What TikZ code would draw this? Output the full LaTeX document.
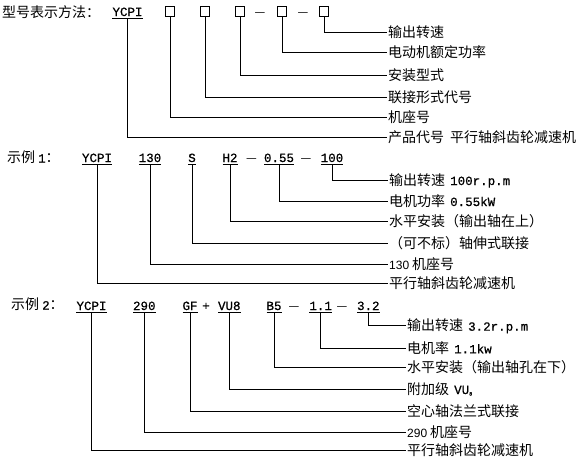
\documentclass[tikz,border=0pt]{standalone}
\usepackage{fontspec}
\newfontfamily\cjkfont{Noto Sans CJK SC}
\newfontfamily\monofont[FakeBold=0.6]{Liberation Mono}
\newfontfamily\sansfontx{Liberation Sans}
\newcommand\lat[1]{{\monofont\fontsize{12.5}{12}\selectfont #1}}
\newcommand\num[1]{{\sansfontx\fontsize{12}{12}\selectfont #1}}
\newcommand\cul[1]{\leavevmode\setbox0=\hbox{#1}\rlap{\copy0}\rule[-2.4pt]{\wd0}{0.9pt}}
\tikzset{
  head/.style={anchor=base west, inner sep=0pt, font=\cjkfont\fontsize{14}{16}\selectfont},
  lbl/.style={anchor=west, inner xsep=1pt, inner ysep=0pt, text height=11pt, text depth=1pt,
              font=\cjkfont\fontsize{14}{16}\selectfont},
  code/.style={anchor=base, inner sep=0pt, font=\monofont\fontsize{12.5}{12}\selectfont},
  sym/.style={anchor=base, inner sep=0pt, font=\cjkfont\fontsize{12}{12}\selectfont},
  blank/.style={draw, line width=0.9pt, minimum size=9.5pt, inner sep=0pt},
  conn/.style={line width=0.9pt}
}
\begin{document}
\begin{tikzpicture}[x=1pt,y=-1pt]
\useasboundingbox[fill=white] (0,0) rectangle (586,464);

% ---------- row 0 ----------
\node[head] (h0) at (2,17) {型号表示方法：};
\node[code] (c0) at (127.5,16) {\cul{YCPI}};
\node[blank] (b1) at (170,11.5) {};
\node[blank] (b2) at (205,11.5) {};
\node[blank] (b3) at (240,11.5) {};
\node[sym] (d01) at (260,16) {—};
\node[blank] (b4) at (282,11.5) {};
\node[sym] (d02) at (303,16) {—};
\node[blank] (b5) at (324,11.5) {};

\node[lbl] (l05) at (387,32.3) {输出转速};
\node[lbl] (l04) at (387,52.3) {电动机额定功率};
\node[lbl] (l03) at (387,75) {安装型式};
\node[lbl] (l02) at (387,97.7) {联接形式代号};
\node[lbl] (l01) at (387,117.3) {机座号};
\node[lbl] (l00) at (387,137.7) {产品代号\hspace{6pt}平行轴斜齿轮减速机};

\draw[conn] (b5.south) |- (l05.west);
\draw[conn] (b4.south) |- (l04.west);
\draw[conn] (b3.south) |- (l03.west);
\draw[conn] (b2.south) |- (l02.west);
\draw[conn] (b1.south) |- (l01.west);
\draw[conn] (c0.south) |- (l00.west);

% ---------- row 1 ----------
\node[head] (h1) at (7,162.5) {示例\hspace{3pt}\lat{1}：};
\node[code] (c1a) at (97,162) {\cul{YCPI}};
\node[code] (c1b) at (150,162) {\cul{130}};
\node[code] (c1c) at (192,162) {\cul{S}};
\node[code] (c1d) at (230,162) {\cul{H2}};
\node[sym] (d11) at (251.5,162) {—};
\node[code] (c1e) at (279,162) {\cul{0.55}};
\node[sym] (d12) at (306,162) {—};
\node[code] (c1f) at (332,162) {\cul{100}};

\node[lbl] (l15) at (388,180) {输出转速\hspace{5pt}\lat{100r.p.m}};
\node[lbl] (l14) at (388,201) {电机功率\hspace{5pt}\lat{0.55kW}};
\node[lbl] (l13) at (388,221.7) {水平安装（输出轴在上）};
\node[lbl] (l12) at (388,243.3) {（可不标）轴伸式联接};
\node[lbl] (l11) at (388,264) {\num{130}\hspace{3pt}机座号};
\node[lbl] (l10) at (388,283.3) {平行轴斜齿轮减速机};

\draw[conn] (c1f.south) |- (l15.west);
\draw[conn] (c1e.south) |- (l14.west);
\draw[conn] (c1d.south) |- (l13.west);
\draw[conn] (c1c.south) |- (l12.west);
\draw[conn] (c1b.south) |- (l11.west);
\draw[conn] (c1a.south) |- (l10.west);

% ---------- row 2 ----------
\node[head] (h2) at (11,309.5) {示例\hspace{3pt}\lat{2}：};
\node[code] (c2a) at (91.5,310) {\cul{YCPI}};
\node[code] (c2b) at (144.3,310) {\cul{290}};
\node[code] (c2c) at (190,310) {\cul{GF}};
\node[code] (p2) at (206,310) {+};
\node[code] (c2d) at (229.3,310) {\cul{VU8}};
\node[code] (c2e) at (274,310) {\cul{B5}};
\node[sym] (d21) at (294,310) {—};
\node[code] (c2f) at (320.7,310) {\cul{1.1}};
\node[sym] (d22) at (342,310) {—};
\node[code] (c2g) at (368.3,310) {\cul{3.2}};

\node[lbl] (l27) at (406,325.7) {输出转速\hspace{5pt}\lat{3.2r.p.m}};
\node[lbl] (l26) at (406,348.3) {电机率\hspace{5pt}\lat{1.1kw}};
\node[lbl] (l25) at (406,367.3) {水平安装（输出轴孔在下）};
\node[lbl] (l24) at (406,389) {附加级\hspace{5pt}\lat{VU}\raisebox{-1.5pt}{\monofont\fontsize{5}{5}\selectfont 8}};
\node[lbl] (l23) at (406,411) {空心轴法兰式联接};
\node[lbl] (l22) at (406,432.7) {\num{290}\hspace{3pt}机座号};
\node[lbl] (l21) at (406,450.7) {平行轴斜齿轮减速机};

\draw[conn] (c2g.south) |- (l27.west);
\draw[conn] (c2f.south) |- (l26.west);
\draw[conn] (c2e.south) |- (l25.west);
\draw[conn] (c2d.south) |- (l24.west);
\draw[conn] (c2c.south) |- (l23.west);
\draw[conn] (c2b.south) |- (l22.west);
\draw[conn] (c2a.south) |- (l21.west);
\end{tikzpicture}
\end{document}
